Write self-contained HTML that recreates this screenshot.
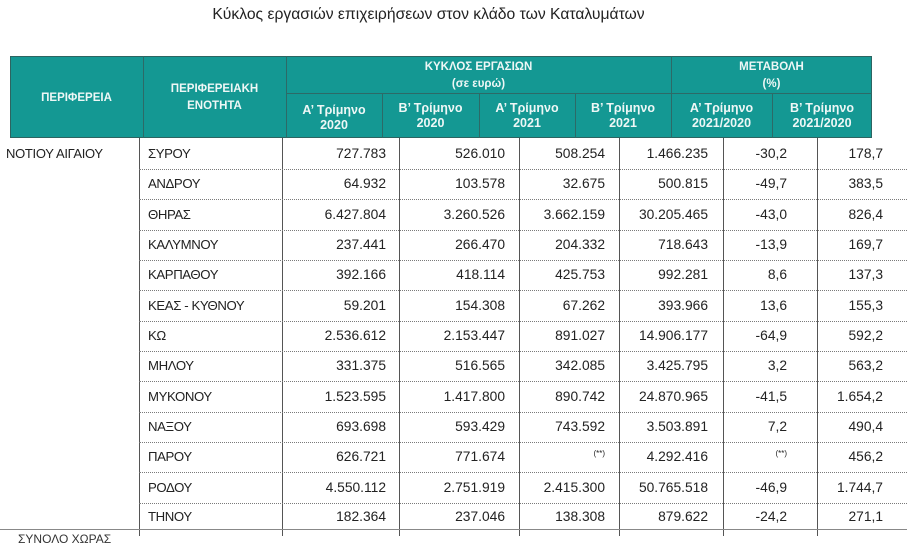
<!DOCTYPE html>
<html><head><meta charset="utf-8">
<style>
html,body{margin:0;padding:0;background:#fff;}
body{width:907px;height:536px;overflow:hidden;position:relative;font-family:"Liberation Sans","Noto Sans CJK SC",sans-serif;color:#222;}
.a{position:absolute;}
.title{left:0;width:857px;top:5px;text-align:center;font-size:15.7px;line-height:20px;color:#222;}
.hdr{left:10px;top:56px;width:862px;height:82px;background:#149893;border:1px solid #2d6461;box-sizing:border-box;}
.vl{position:absolute;width:1px;background:#2d6a67;}
.hl{position:absolute;height:1px;background:#2d6a67;}
.ht{position:absolute;color:#eef7f6;font-weight:bold;text-align:center;white-space:nowrap;}
.h1{font-size:11.5px;line-height:17px;}
.h2{font-size:12.5px;line-height:15px;}
.bv{position:absolute;width:1px;background:#555;top:138px;height:398px;}
.dot{position:absolute;left:139px;width:768px;height:0;border-top:1px dotted #7a7a7a;}
.r{position:absolute;left:0;width:907px;height:30px;}
.r span{position:absolute;top:0;line-height:30px;white-space:nowrap;font-size:13.8px;}
.r .n{left:148px;font-size:13.2px;letter-spacing:-0.4px;}
.r .c3{right:521px}.r .c4{right:402px}.r .c5{right:302px}.r .c6{right:199px}.r .c7{right:120px}.r .c8{right:24px}
.r .s{font-size:8px;line-height:24px;}
</style></head><body>
<div class="a title">Κύκλος εργασιών επιχειρήσεων στον κλάδο των Καταλυμάτων</div>

<div class="a hdr"></div>
<div class="vl" style="left:143px;top:56px;height:82px"></div>
<div class="vl" style="left:286px;top:56px;height:82px"></div>
<div class="vl" style="left:671px;top:56px;height:82px"></div>
<div class="hl" style="left:286px;top:93px;width:586px"></div>
<div class="vl" style="left:382px;top:93px;height:45px"></div>
<div class="vl" style="left:479px;top:93px;height:45px"></div>
<div class="vl" style="left:575px;top:93px;height:45px"></div>
<div class="vl" style="left:772px;top:93px;height:45px"></div>

<div class="ht h1" style="left:10px;width:133px;top:90px">ΠΕΡΙΦΕΡΕΙΑ</div>
<div class="ht h1" style="left:143px;width:143px;top:81px">ΠΕΡΙΦΕΡΕΙΑΚΗ<br>ΕΝΟΤΗΤΑ</div>
<div class="ht h1" style="left:286px;width:385px;top:59px">ΚΥΚΛΟΣ ΕΡΓΑΣΙΩΝ<br>(σε ευρώ)</div>
<div class="ht h1" style="left:671px;width:201px;top:59px">ΜΕΤΑΒΟΛΗ<br>(%)</div>
<div class="ht h2" style="left:286px;width:96px;top:103px">Α’ Τρίμηνο<br>2020</div>
<div class="ht h2" style="left:382px;width:97px;top:101px">Β’ Τρίμηνο<br>2020</div>
<div class="ht h2" style="left:479px;width:96px;top:101px">Α’ Τρίμηνο<br>2021</div>
<div class="ht h2" style="left:575px;width:96px;top:101px">Β’ Τρίμηνο<br>2021</div>
<div class="ht h2" style="left:671px;width:101px;top:101px">Α’ Τρίμηνο<br>2021/2020</div>
<div class="ht h2" style="left:772px;width:100px;top:101px">Β’ Τρίμηνο<br>2021/2020</div>

<div class="bv" style="left:139px"></div>
<div class="bv" style="left:282px"></div>
<div class="bv" style="left:399px"></div>
<div class="bv" style="left:519px"></div>
<div class="bv" style="left:619px"></div>
<div class="bv" style="left:723px"></div>
<div class="bv" style="left:817px"></div>

<div class="dot" style="top:169px"></div>
<div class="dot" style="top:199px"></div>
<div class="dot" style="top:230px"></div>
<div class="dot" style="top:260px"></div>
<div class="dot" style="top:290px"></div>
<div class="dot" style="top:321px"></div>
<div class="dot" style="top:351px"></div>
<div class="dot" style="top:381px"></div>
<div class="dot" style="top:412px"></div>
<div class="dot" style="top:442px"></div>
<div class="dot" style="top:472px"></div>
<div class="dot" style="top:503px"></div>
<div class="a" style="left:0;top:529px;width:907px;height:1px;background:#888"></div>
<div class="a" style="left:18px;top:532px;font-size:12px;line-height:14px;color:#333">ΣΥΝΟΛΟ ΧΩΡΑΣ</div>

<div class="a" style="left:6px;top:139px;line-height:30px;font-size:13px;letter-spacing:-0.3px">ΝΟΤΙΟΥ ΑΙΓΑΙΟΥ</div>

<div class="r" style="top:139px"><span class="n">ΣΥΡΟΥ</span><span class="c3">727.783</span><span class="c4">526.010</span><span class="c5">508.254</span><span class="c6">1.466.235</span><span class="c7">-30,2</span><span class="c8">178,7</span></div>
<div class="r" style="top:169px"><span class="n">ΑΝΔΡΟΥ</span><span class="c3">64.932</span><span class="c4">103.578</span><span class="c5">32.675</span><span class="c6">500.815</span><span class="c7">-49,7</span><span class="c8">383,5</span></div>
<div class="r" style="top:200px"><span class="n">ΘΗΡΑΣ</span><span class="c3">6.427.804</span><span class="c4">3.260.526</span><span class="c5">3.662.159</span><span class="c6">30.205.465</span><span class="c7">-43,0</span><span class="c8">826,4</span></div>
<div class="r" style="top:230px"><span class="n">ΚΑΛΥΜΝΟΥ</span><span class="c3">237.441</span><span class="c4">266.470</span><span class="c5">204.332</span><span class="c6">718.643</span><span class="c7">-13,9</span><span class="c8">169,7</span></div>
<div class="r" style="top:260px"><span class="n">ΚΑΡΠΑΘΟΥ</span><span class="c3">392.166</span><span class="c4">418.114</span><span class="c5">425.753</span><span class="c6">992.281</span><span class="c7">8,6</span><span class="c8">137,3</span></div>
<div class="r" style="top:291px"><span class="n">ΚΕΑΣ - ΚΥΘΝΟΥ</span><span class="c3">59.201</span><span class="c4">154.308</span><span class="c5">67.262</span><span class="c6">393.966</span><span class="c7">13,6</span><span class="c8">155,3</span></div>
<div class="r" style="top:321px"><span class="n">ΚΩ</span><span class="c3">2.536.612</span><span class="c4">2.153.447</span><span class="c5">891.027</span><span class="c6">14.906.177</span><span class="c7">-64,9</span><span class="c8">592,2</span></div>
<div class="r" style="top:351px"><span class="n">ΜΗΛΟΥ</span><span class="c3">331.375</span><span class="c4">516.565</span><span class="c5">342.085</span><span class="c6">3.425.795</span><span class="c7">3,2</span><span class="c8">563,2</span></div>
<div class="r" style="top:382px"><span class="n">ΜΥΚΟΝΟΥ</span><span class="c3">1.523.595</span><span class="c4">1.417.800</span><span class="c5">890.742</span><span class="c6">24.870.965</span><span class="c7">-41,5</span><span class="c8">1.654,2</span></div>
<div class="r" style="top:412px"><span class="n">ΝΑΞΟΥ</span><span class="c3">693.698</span><span class="c4">593.429</span><span class="c5">743.592</span><span class="c6">3.503.891</span><span class="c7">7,2</span><span class="c8">490,4</span></div>
<div class="r" style="top:442px"><span class="n">ΠΑΡΟΥ</span><span class="c3">626.721</span><span class="c4">771.674</span><span class="c5 s">(**)</span><span class="c6">4.292.416</span><span class="c7 s">(**)</span><span class="c8">456,2</span></div>
<div class="r" style="top:473px"><span class="n">ΡΟΔΟΥ</span><span class="c3">4.550.112</span><span class="c4">2.751.919</span><span class="c5">2.415.300</span><span class="c6">50.765.518</span><span class="c7">-46,9</span><span class="c8">1.744,7</span></div>
<div class="r" style="top:502px"><span class="n">ΤΗΝΟΥ</span><span class="c3">182.364</span><span class="c4">237.046</span><span class="c5">138.308</span><span class="c6">879.622</span><span class="c7">-24,2</span><span class="c8">271,1</span></div>
</body></html>
